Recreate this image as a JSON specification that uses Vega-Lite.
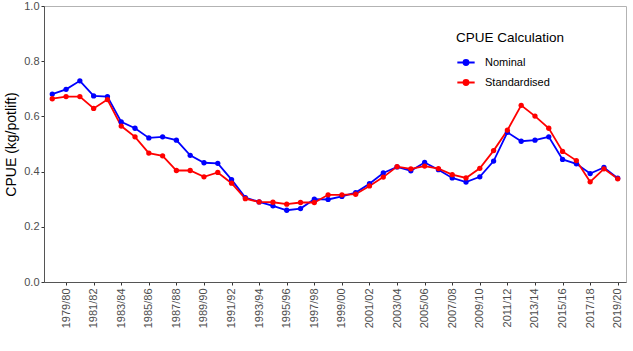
{
  "$schema": "https://vega.github.io/schema/vega-lite/v6.json",
  "width": 582,
  "height": 276,
  "autosize": {"type": "none"},
  "padding": {"left": 44, "top": 6, "right": 7, "bottom": 69},
  "background": "white",
  "config": {
    "font": "Liberation Sans",
    "view": {"stroke": "#b3b3b3", "strokeWidth": 1}
  },
  "datasets": {
    "cpue": [
      {"season": "1978/79", "type": "Nominal", "cpue": 0.681},
      {"season": "1979/80", "type": "Nominal", "cpue": 0.698},
      {"season": "1980/81", "type": "Nominal", "cpue": 0.729},
      {"season": "1981/82", "type": "Nominal", "cpue": 0.674},
      {"season": "1982/83", "type": "Nominal", "cpue": 0.672},
      {"season": "1983/84", "type": "Nominal", "cpue": 0.580},
      {"season": "1984/85", "type": "Nominal", "cpue": 0.557},
      {"season": "1985/86", "type": "Nominal", "cpue": 0.522},
      {"season": "1986/87", "type": "Nominal", "cpue": 0.526},
      {"season": "1987/88", "type": "Nominal", "cpue": 0.514},
      {"season": "1988/89", "type": "Nominal", "cpue": 0.459},
      {"season": "1989/90", "type": "Nominal", "cpue": 0.432},
      {"season": "1990/91", "type": "Nominal", "cpue": 0.430},
      {"season": "1991/92", "type": "Nominal", "cpue": 0.371},
      {"season": "1992/93", "type": "Nominal", "cpue": 0.306},
      {"season": "1993/94", "type": "Nominal", "cpue": 0.290},
      {"season": "1994/95", "type": "Nominal", "cpue": 0.276},
      {"season": "1995/96", "type": "Nominal", "cpue": 0.260},
      {"season": "1996/97", "type": "Nominal", "cpue": 0.266},
      {"season": "1997/98", "type": "Nominal", "cpue": 0.300},
      {"season": "1998/99", "type": "Nominal", "cpue": 0.299},
      {"season": "1999/00", "type": "Nominal", "cpue": 0.310},
      {"season": "2000/01", "type": "Nominal", "cpue": 0.324},
      {"season": "2001/02", "type": "Nominal", "cpue": 0.356},
      {"season": "2002/03", "type": "Nominal", "cpue": 0.395},
      {"season": "2003/04", "type": "Nominal", "cpue": 0.417},
      {"season": "2004/05", "type": "Nominal", "cpue": 0.403},
      {"season": "2005/06", "type": "Nominal", "cpue": 0.433},
      {"season": "2006/07", "type": "Nominal", "cpue": 0.407},
      {"season": "2007/08", "type": "Nominal", "cpue": 0.377},
      {"season": "2008/09", "type": "Nominal", "cpue": 0.362},
      {"season": "2009/10", "type": "Nominal", "cpue": 0.381},
      {"season": "2010/11", "type": "Nominal", "cpue": 0.438},
      {"season": "2011/12", "type": "Nominal", "cpue": 0.542},
      {"season": "2012/13", "type": "Nominal", "cpue": 0.510},
      {"season": "2013/14", "type": "Nominal", "cpue": 0.514},
      {"season": "2014/15", "type": "Nominal", "cpue": 0.526},
      {"season": "2015/16", "type": "Nominal", "cpue": 0.444},
      {"season": "2016/17", "type": "Nominal", "cpue": 0.428},
      {"season": "2017/18", "type": "Nominal", "cpue": 0.393},
      {"season": "2018/19", "type": "Nominal", "cpue": 0.415},
      {"season": "2019/20", "type": "Nominal", "cpue": 0.376},
      {"season": "1978/79", "type": "Standardised", "cpue": 0.664},
      {"season": "1979/80", "type": "Standardised", "cpue": 0.672},
      {"season": "1980/81", "type": "Standardised", "cpue": 0.672},
      {"season": "1981/82", "type": "Standardised", "cpue": 0.629},
      {"season": "1982/83", "type": "Standardised", "cpue": 0.661},
      {"season": "1983/84", "type": "Standardised", "cpue": 0.565},
      {"season": "1984/85", "type": "Standardised", "cpue": 0.526},
      {"season": "1985/86", "type": "Standardised", "cpue": 0.467},
      {"season": "1986/87", "type": "Standardised", "cpue": 0.457},
      {"season": "1987/88", "type": "Standardised", "cpue": 0.404},
      {"season": "1988/89", "type": "Standardised", "cpue": 0.404},
      {"season": "1989/90", "type": "Standardised", "cpue": 0.381},
      {"season": "1990/91", "type": "Standardised", "cpue": 0.397},
      {"season": "1991/92", "type": "Standardised", "cpue": 0.358},
      {"season": "1992/93", "type": "Standardised", "cpue": 0.302},
      {"season": "1993/94", "type": "Standardised", "cpue": 0.290},
      {"season": "1994/95", "type": "Standardised", "cpue": 0.289},
      {"season": "1995/96", "type": "Standardised", "cpue": 0.282},
      {"season": "1996/97", "type": "Standardised", "cpue": 0.288},
      {"season": "1997/98", "type": "Standardised", "cpue": 0.288},
      {"season": "1998/99", "type": "Standardised", "cpue": 0.316},
      {"season": "1999/00", "type": "Standardised", "cpue": 0.316},
      {"season": "2000/01", "type": "Standardised", "cpue": 0.318},
      {"season": "2001/02", "type": "Standardised", "cpue": 0.348},
      {"season": "2002/03", "type": "Standardised", "cpue": 0.380},
      {"season": "2003/04", "type": "Standardised", "cpue": 0.418},
      {"season": "2004/05", "type": "Standardised", "cpue": 0.410},
      {"season": "2005/06", "type": "Standardised", "cpue": 0.420},
      {"season": "2006/07", "type": "Standardised", "cpue": 0.411},
      {"season": "2007/08", "type": "Standardised", "cpue": 0.389},
      {"season": "2008/09", "type": "Standardised", "cpue": 0.377},
      {"season": "2009/10", "type": "Standardised", "cpue": 0.412},
      {"season": "2010/11", "type": "Standardised", "cpue": 0.476},
      {"season": "2011/12", "type": "Standardised", "cpue": 0.550},
      {"season": "2012/13", "type": "Standardised", "cpue": 0.640},
      {"season": "2013/14", "type": "Standardised", "cpue": 0.601},
      {"season": "2014/15", "type": "Standardised", "cpue": 0.557},
      {"season": "2015/16", "type": "Standardised", "cpue": 0.473},
      {"season": "2016/17", "type": "Standardised", "cpue": 0.440},
      {"season": "2017/18", "type": "Standardised", "cpue": 0.363},
      {"season": "2018/19", "type": "Standardised", "cpue": 0.410},
      {"season": "2019/20", "type": "Standardised", "cpue": 0.374}
    ]
  },
  "data": {"name": "cpue"},
  "encoding": {
    "x": {
      "field": "season",
      "type": "ordinal",
      "sort": null,
      "scale": {"type": "point", "padding": 0.6},
      "axis": {
        "title": null,
        "values": ["1979/80","1981/82","1983/84","1985/86","1987/88","1989/90","1991/92","1993/94","1995/96","1997/98","1999/00","2001/02","2003/04","2005/06","2007/08","2009/10","2011/12","2013/14","2015/16","2017/18","2019/20"],
        "labelAngle": 270,
        "labelAlign": "right",
        "labelBaseline": "middle",
        "labelFontSize": 11,
        "labelColor": "#4d4d4d",
        "labelPadding": 3,
        "tickSize": 3,
        "tickColor": "#333333",
        "domainColor": "#555555",
        "grid": false
      }
    },
    "y": {
      "field": "cpue",
      "type": "quantitative",
      "scale": {"domain": [0, 1], "nice": false, "zero": true},
      "axis": {
        "title": "CPUE (kg/potlift)",
        "titleFontSize": 14,
        "titleFontWeight": "normal",
        "titleColor": "#000000",
        "titlePadding": 5,
        "values": [0, 0.2, 0.4, 0.6, 0.8, 1.0],
        "format": ".1f",
        "labelFontSize": 11,
        "labelColor": "#4d4d4d",
        "labelPadding": 2,
        "tickSize": 3,
        "tickColor": "#333333",
        "domainColor": "#555555",
        "grid": false
      }
    },
    "color": {
      "field": "type",
      "type": "nominal",
      "scale": {"domain": ["Nominal", "Standardised"], "range": ["#0000FF", "#FF0000"]},
      "legend": {
        "title": "CPUE Calculation",
        "orient": "none",
        "legendX": 412,
        "legendY": 25,
        "titleFontSize": 13.5,
        "titleFontWeight": "normal",
        "titleColor": "#000000",
        "titlePadding": 8,
        "labelFontSize": 11,
        "labelColor": "#000000",
        "labelOffset": 9,
        "rowPadding": 3,
        "symbolType": "M-1,0L1,0M-0.28,0A0.28,0.28 0 1,0 0.28,0A0.28,0.28 0 1,0 -0.28,0Z",
        "symbolSize": 300,
        "symbolStrokeWidth": 2,
        "encode": {
          "symbols": {
            "update": {
              "stroke": {"scale": "color", "field": "value"},
              "fill": {"scale": "color", "field": "value"},
              "strokeWidth": {"value": 2}
            }
          }
        }
      }
    }
  },
  "layer": [
    {"mark": {"type": "line", "strokeWidth": 1.8}},
    {"mark": {"type": "point", "filled": true, "size": 28, "opacity": 1}}
  ]
}
